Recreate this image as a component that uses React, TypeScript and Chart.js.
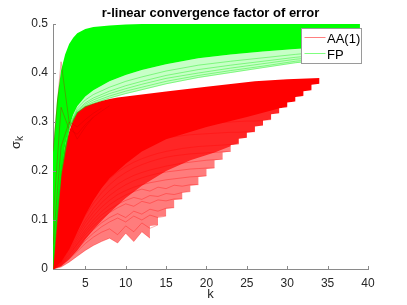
import React, { useEffect, useRef } from "react";
import { Chart, registerables } from "chart.js";

Chart.register(...registerables);

// ---------- text ----------
const TITLE = "r-linear convergence factor of error";
const X_LABEL = "k";
const Y_LABEL = "σ";
const Y_LABEL_SUB = "k";
const SERIES_NAMES = ["AA(1)", "FP"];

// ---------- axes ----------
const X_MIN = 1;
const X_MAX = 40;
const X_STEP = 5;
const Y_MIN = 0;
const Y_MAX = 0.5;
const Y_STEP = 0.1;

// ---------- FP (green) band ----------
const FP_TOP_K = [1, 1.5, 2, 2.5, 3, 3.5, 4, 5, 6, 8, 10, 12, 16, 39];
const FP_TOP_V = [0.24, 0.345, 0.405, 0.438, 0.459, 0.472, 0.481, 0.49, 0.494, 0.497, 0.499, 0.5, 0.5, 0.5];

const FP_BAND_K = [1, 1.5, 2, 2.5, 3, 3.5, 4, 5, 6, 8, 10, 12, 15, 19, 23, 27, 31, 35, 39];
const FP_DENSE_V = [0, 0.11, 0.195, 0.252, 0.29, 0.315, 0.332, 0.352, 0.365, 0.383, 0.396, 0.406, 0.418, 0.43, 0.438, 0.444, 0.449, 0.453, 0.456];
const FP_LOW_V = [0, 0.1, 0.19, 0.248, 0.285, 0.305, 0.318, 0.33, 0.337, 0.348, 0.357, 0.365, 0.377, 0.39, 0.4, 0.41, 0.42, 0.426, 0.43];

// individual FP curves in the lower fringe
const FP_LINE_K = [1, 2, 3, 4, 5, 6, 8, 10, 12, 15, 19, 23, 27, 31, 35, 39];
const FP_LINE_1 = [0, 0.19, 0.286, 0.319, 0.331, 0.338, 0.349, 0.358, 0.366, 0.378, 0.391, 0.401, 0.411, 0.421, 0.427, 0.431];
const FP_LINE_2 = [0.01, 0.194, 0.287, 0.32, 0.333, 0.341, 0.353, 0.363, 0.371, 0.383, 0.395, 0.405, 0.414, 0.424, 0.43, 0.434];
const FP_LINE_3 = [0.02, 0.197, 0.289, 0.322, 0.336, 0.345, 0.358, 0.368, 0.377, 0.389, 0.4, 0.41, 0.419, 0.428, 0.434, 0.438];
const FP_LINE_4 = [0.03, 0.2, 0.29, 0.324, 0.339, 0.349, 0.363, 0.374, 0.383, 0.395, 0.407, 0.416, 0.424, 0.432, 0.438, 0.442];
const FP_LINE_5 = [0.04, 0.205, 0.292, 0.328, 0.345, 0.356, 0.371, 0.383, 0.392, 0.404, 0.416, 0.424, 0.431, 0.438, 0.444, 0.448];

// ---------- AA(1) (red) band ----------
const AA_TOP_K = [1, 1.5, 2, 2.5, 3, 3.5, 4, 5, 6, 7, 8, 9, 10, 12, 15, 20, 26, 30, 34];
const AA_TOP_V = [0.02, 0.12, 0.2, 0.25, 0.28, 0.305, 0.32, 0.332, 0.338, 0.343, 0.347, 0.35, 0.352, 0.356, 0.362, 0.372, 0.383, 0.387, 0.39];

const AA_DENSE_K = [1, 2, 3, 4, 5, 6, 7, 8, 10, 12, 15, 20, 25, 30, 34];
const AA_DENSE_V = [0, 0.015, 0.04, 0.075, 0.11, 0.14, 0.165, 0.185, 0.215, 0.24, 0.265, 0.29, 0.31, 0.332, 0.378];

const AA_MID_K = [1, 2, 3, 4, 5, 6, 7, 8, 10, 12, 15, 18, 21, 24];
const AA_MID_V = [0, 0.006, 0.02, 0.038, 0.06, 0.08, 0.098, 0.115, 0.145, 0.17, 0.2, 0.222, 0.238, 0.257];

// lower edge of all AA(1) curves: lowest curve, then the staircase of curve ends
const AA_EDGE_K = [1, 2, 3, 4, 5, 6, 7, 8, 9, 10, 11, 12, 13, 13, 14, 14, 15, 15, 16, 16, 17, 17, 18, 18, 19, 19, 20, 20, 21, 21, 22, 22, 23, 23, 24, 24, 25, 25, 26, 26, 27, 27, 28, 28, 29, 29, 30, 30, 31, 31, 32, 32, 33, 33, 34, 35];
const AA_EDGE_V = [0, 0.004, 0.014, 0.026, 0.038, 0.048, 0.056, 0.063, 0.053, 0.073, 0.056, 0.076, 0.063, 0.088, 0.09, 0.106, 0.108, 0.123, 0.125, 0.141, 0.143, 0.156, 0.158, 0.17, 0.172, 0.188, 0.19, 0.204, 0.206, 0.222, 0.224, 0.238, 0.24, 0.253, 0.255, 0.266, 0.268, 0.278, 0.28, 0.291, 0.293, 0.303, 0.305, 0.316, 0.318, 0.328, 0.33, 0.34, 0.342, 0.351, 0.353, 0.363, 0.365, 0.376, 0.378, 0.378];

// individual AA(1) curves (values at k = 1, 2, 3, ...)
const AA_LINE_1 = [0, 0.004, 0.014, 0.026, 0.038, 0.048, 0.056, 0.063, 0.053, 0.073, 0.056, 0.076, 0.063];
const AA_LINE_2 = [0, 0.006, 0.02, 0.036, 0.052, 0.065, 0.075, 0.082, 0.07, 0.088, 0.076, 0.094, 0.083, 0.09];
const AA_LINE_3 = [0, 0.007, 0.022, 0.04, 0.058, 0.073, 0.086, 0.096, 0.104, 0.096, 0.108, 0.1, 0.11, 0.105, 0.108];
const AA_LINE_4 = [0, 0.008, 0.025, 0.045, 0.064, 0.08, 0.094, 0.105, 0.113, 0.105, 0.118, 0.112, 0.122, 0.118, 0.124, 0.125];
const AA_LINE_5 = [0, 0.009, 0.028, 0.05, 0.07, 0.088, 0.103, 0.115, 0.125, 0.133, 0.128, 0.138, 0.134, 0.141, 0.139, 0.143, 0.143];
const AA_LINE_6 = [0, 0.01, 0.03, 0.052, 0.075, 0.094, 0.11, 0.122, 0.132, 0.14, 0.146, 0.142, 0.15, 0.148, 0.154, 0.152, 0.156, 0.158];
const AA_LINE_7 = [0, 0.011, 0.033, 0.057, 0.08, 0.1, 0.117, 0.131, 0.142, 0.151, 0.158, 0.163, 0.159, 0.167, 0.164, 0.171, 0.169, 0.172, 0.172];
const AA_LINE_8 = [0, 0.012, 0.036, 0.062, 0.087, 0.108, 0.126, 0.14, 0.152, 0.16, 0.167, 0.172, 0.176, 0.179, 0.182, 0.184, 0.186, 0.188, 0.189, 0.19];
const AA_LINE_9 = [0, 0.013, 0.039, 0.067, 0.094, 0.116, 0.135, 0.15, 0.162, 0.172, 0.18, 0.186, 0.191, 0.195, 0.198, 0.2, 0.202, 0.204, 0.205, 0.206, 0.206];
const AA_LINE_10 = [0, 0.014, 0.042, 0.072, 0.1, 0.124, 0.144, 0.16, 0.173, 0.183, 0.191, 0.197, 0.202, 0.206, 0.21, 0.213, 0.216, 0.218, 0.22, 0.222, 0.223, 0.224];
const AA_LINE_11 = [0, 0.015, 0.046, 0.079, 0.109, 0.134, 0.155, 0.172, 0.186, 0.197, 0.206, 0.213, 0.219, 0.224, 0.228, 0.231, 0.233, 0.235, 0.236, 0.237, 0.238, 0.239, 0.24];
const AA_LINE_12 = [0, 0.016, 0.05, 0.085, 0.117, 0.144, 0.166, 0.184, 0.198, 0.209, 0.218, 0.225, 0.231, 0.236, 0.24, 0.243, 0.246, 0.248, 0.25, 0.251, 0.252, 0.253, 0.254, 0.255];
const AA_LINE_13 = [0, 0.02, 0.06, 0.1, 0.136, 0.166, 0.19, 0.209, 0.224, 0.236, 0.246, 0.254, 0.26, 0.265, 0.268, 0.27, 0.272, 0.274, 0.275, 0.276, 0.277, 0.278, 0.279, 0.279, 0.28, 0.28];
const AA_LINE_14 = [0, 0.024, 0.07, 0.115, 0.152, 0.182, 0.205, 0.224, 0.239, 0.251, 0.261, 0.269, 0.276, 0.281, 0.285, 0.288, 0.291, 0.293, 0.295, 0.297, 0.298, 0.299, 0.3, 0.301, 0.302, 0.302, 0.303, 0.305];

// AA(1) curves that jump early (visible over the FP band)
const AA_SPIKE_1 = [0.24, 0.423, 0.3, 0.29, 0.305, 0.318, 0.328];
const AA_SPIKE_2 = [0.1, 0.33, 0.285, 0.275, 0.295, 0.31];
const AA_SPIKE_3 = [0.05, 0.25, 0.3, 0.265, 0.29, 0.31, 0.322, 0.333];

// ---------- styles ----------
const FONT = '"Liberation Sans", Arial, Helvetica, sans-serif';
const AXIS_COLOR = "#8a8a8a";
const TEXT_COLOR = "#262626";
const RED = "rgb(255,0,0)";
const GREEN = "rgb(0,255,0)";
const RED_LINE = "rgba(255,0,0,0.5)";
const GREEN_LINE = "rgba(0,255,0,0.5)";
const TICK_LEN = 3;

const xy = (ks: number[], vs: number[]) => ks.map((k, i) => ({ x: k, y: vs[i] }));
const fromOne = (vs: number[]) => vs.map((v, i) => ({ x: i + 1, y: v }));

function buildDatasets() {
  const list: any[] = [];
  const add = (ds: any) => {
    list.push({ pointRadius: 0, tension: 0, borderWidth: 0, borderColor: "transparent", fill: false, ...ds });
    return list.length - 1;
  };
  // AA(1) body
  add({ data: xy(AA_TOP_K, AA_TOP_V), fill: "origin", backgroundColor: RED });
  add({ data: xy(AA_DENSE_K, AA_DENSE_V), fill: "origin", backgroundColor: "rgba(255,255,255,0.15)" });
  add({ data: xy(AA_MID_K, AA_MID_V), fill: "origin", backgroundColor: "rgba(255,255,255,0.4)" });
  add({ data: xy(AA_EDGE_K, AA_EDGE_V), fill: "origin", backgroundColor: "#ffffff" });
  [AA_LINE_1, AA_LINE_2, AA_LINE_3, AA_LINE_4, AA_LINE_5, AA_LINE_6, AA_LINE_7, AA_LINE_8, AA_LINE_9, AA_LINE_10, AA_LINE_11, AA_LINE_12, AA_LINE_13, AA_LINE_14].forEach((vs) =>
    add({ data: fromOne(vs), borderWidth: 0.7, borderColor: "rgba(255,0,0,0.45)" })
  );
  // FP body
  const low = add({ data: xy(FP_BAND_K, FP_LOW_V) });
  const dense = add({ data: xy(FP_BAND_K, FP_DENSE_V), fill: { target: low }, backgroundColor: "rgba(0,255,0,0.22)" });
  add({ data: xy(FP_TOP_K, FP_TOP_V), fill: { target: dense }, backgroundColor: GREEN });
  [FP_LINE_1, FP_LINE_2, FP_LINE_3, FP_LINE_4, FP_LINE_5].forEach((vs) =>
    add({ data: xy(FP_LINE_K, vs), borderWidth: 0.7, borderColor: "rgba(0,235,0,0.55)" })
  );
  [AA_SPIKE_1, AA_SPIKE_2, AA_SPIKE_3].forEach((vs) =>
    add({ data: fromOne(vs), borderWidth: 0.8, borderColor: "rgba(200,0,0,0.4)" })
  );
  const n = list.length;
  list.forEach((ds, i) => (ds.order = n - i));
  return list;
}

const decorPlugin = {
  id: "decor",
  afterDraw(chart: any) {
    const { ctx, chartArea: ca, scales } = chart;
    const xs = scales.x;
    const ys = scales.y;
    ctx.save();
    // inward ticks
    ctx.strokeStyle = AXIS_COLOR;
    ctx.lineWidth = 1;
    ctx.beginPath();
    xs.ticks.forEach((t: any) => {
      if (t.value % X_STEP !== 0) return;
      const px = Math.round(xs.getPixelForValue(t.value)) + 0.5;
      ctx.moveTo(px, ca.bottom);
      ctx.lineTo(px, ca.bottom - TICK_LEN);
    });
    ys.ticks.forEach((t: any) => {
      const py = Math.round(ys.getPixelForValue(t.value)) + 0.5;
      ctx.moveTo(ca.left, py);
      ctx.lineTo(ca.left + TICK_LEN, py);
    });
    ctx.stroke();

    // title
    ctx.fillStyle = "#000";
    ctx.font = `bold 13px ${FONT}`;
    ctx.textAlign = "center";
    ctx.textBaseline = "middle";
    ctx.fillText(TITLE, (ca.left + ca.right) / 2, 13);

    // x label
    ctx.fillStyle = TEXT_COLOR;
    ctx.font = `13px ${FONT}`;
    ctx.fillText(X_LABEL, (ca.left + ca.right) / 2, 294);

    // y label (rotated, with subscript)
    ctx.save();
    ctx.translate(19.5, (ca.top + ca.bottom) / 2 - 4);
    ctx.rotate(-Math.PI / 2);
    ctx.textAlign = "left";
    ctx.textBaseline = "alphabetic";
    ctx.font = `13px ${FONT}`;
    const w1 = ctx.measureText(Y_LABEL).width;
    ctx.font = `10px ${FONT}`;
    const w2 = ctx.measureText(Y_LABEL_SUB).width;
    const start = -(w1 + w2) / 2;
    ctx.font = `13px ${FONT}`;
    ctx.fillText(Y_LABEL, start, 0);
    ctx.font = `10px ${FONT}`;
    ctx.fillText(Y_LABEL_SUB, start + w1, 3);
    ctx.restore();

    // legend
    const bx = 301.5, by = 28.5, bw = 60, bh = 35;
    ctx.fillStyle = "#fff";
    ctx.fillRect(bx, by, bw, bh);
    ctx.strokeStyle = "#9a9a9a";
    ctx.lineWidth = 1;
    ctx.strokeRect(bx, by, bw, bh);
    const colors = [RED_LINE, GREEN_LINE];
    const rows = [37, 53];
    ctx.font = `13px ${FONT}`;
    ctx.textAlign = "left";
    ctx.textBaseline = "alphabetic";
    SERIES_NAMES.forEach((name, i) => {
      ctx.strokeStyle = colors[i];
      ctx.beginPath();
      ctx.moveTo(bx + 3, rows[i] + 0.5);
      ctx.lineTo(bx + 24, rows[i] + 0.5);
      ctx.stroke();
      ctx.fillStyle = "#000";
      ctx.fillText(name, bx + 25.5, rows[i] + 5.5);
    });
    ctx.restore();
  },
};

export default function App() {
  const ref = useRef<HTMLCanvasElement | null>(null);
  useEffect(() => {
    if (!ref.current) return;
    const tickFont = { family: FONT, size: 12 };
    const chart = new Chart(ref.current, {
      type: "line",
      data: { datasets: buildDatasets() },
      options: {
        animation: false,
        responsive: false,
        events: [],
        layout: { padding: { top: 24, right: 39, left: 0, bottom: 0 } },
        plugins: { legend: { display: false }, title: { display: false }, tooltip: { enabled: false } },
        scales: {
          x: {
            type: "linear",
            min: X_MIN,
            max: X_MAX,
            z: 1,
            grid: { display: false, drawTicks: false },
            border: { display: true, color: AXIS_COLOR, width: 1 },
            ticks: {
              stepSize: X_STEP,
              autoSkip: false,
              maxRotation: 0,
              padding: 7,
              color: TEXT_COLOR,
              font: tickFont,
              callback: (v: any) => (Number(v) % X_STEP === 0 ? String(v) : ""),
            },
            afterFit: (s: any) => {
              s.height = 36;
            },
          },
          y: {
            type: "linear",
            min: Y_MIN,
            max: Y_MAX,
            z: 1,
            grid: { display: false, drawTicks: false },
            border: { display: true, color: AXIS_COLOR, width: 1 },
            ticks: { stepSize: Y_STEP, padding: 5, color: TEXT_COLOR, font: tickFont },
            afterFit: (s: any) => {
              s.width = 53;
            },
          },
        },
      } as any,
      plugins: [decorPlugin],
    });
    return () => chart.destroy();
  }, []);
  return (
    <div style={{ position: "absolute", left: 0, top: 0, width: 407, height: 305, background: "#fff" }}>
      <canvas ref={ref} width={407} height={305} style={{ display: "block" }} />
    </div>
  );
}
